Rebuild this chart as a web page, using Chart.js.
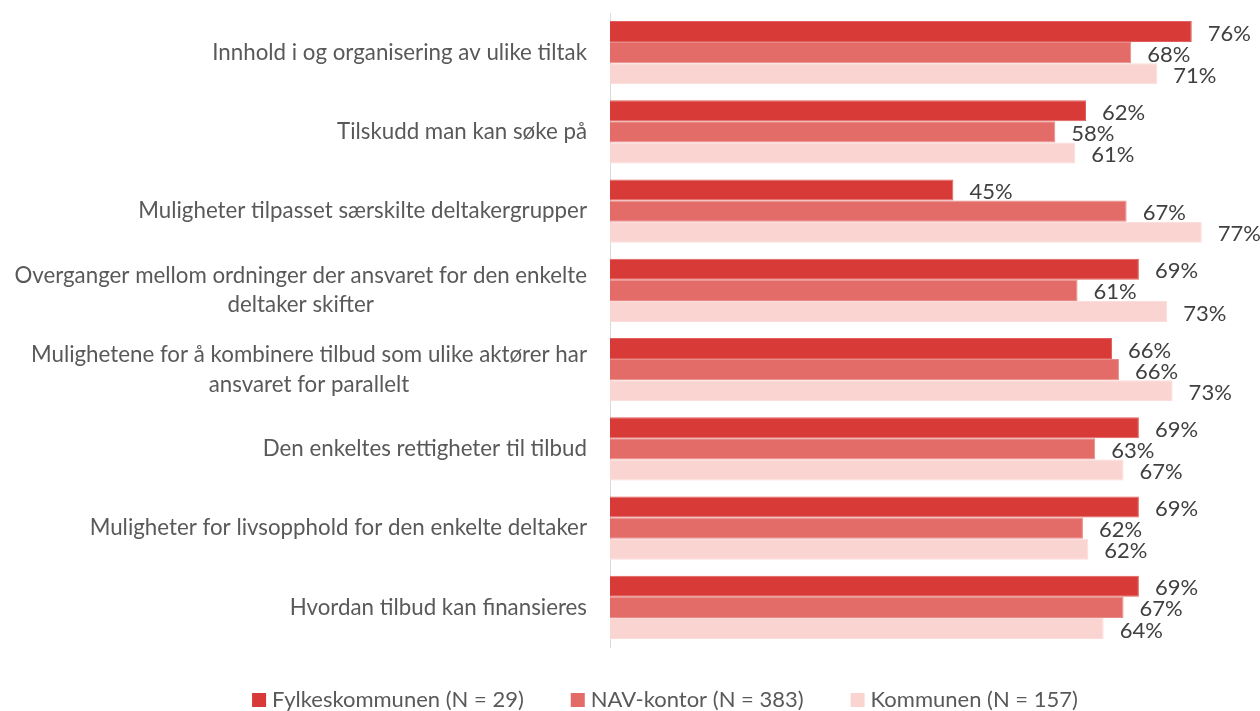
<!DOCTYPE html>
<html>
<head>
<meta charset="utf-8">
<script src="https://cdn.jsdelivr.net/npm/chart.js@4"></script>
<style>
html,body{margin:0;padding:0;background:#fff;}
#wrap{width:1260px;height:711px;position:relative;}
</style>
</head>
<body>
<div id="wrap"><canvas id="c"></canvas></div>
<script>
const categories = [
  ["Innhold i og organisering av ulike tiltak"],
  ["Tilskudd man kan søke på"],
  ["Muligheter tilpasset særskilte deltakergrupper"],
  ["Overganger mellom ordninger der ansvaret for den enkelte", "deltaker skifter"],
  ["Mulighetene for å kombinere tilbud som ulike aktører har", "ansvaret for parallelt"],
  ["Den enkeltes rettigheter til tilbud"],
  ["Muligheter for livsopphold for den enkelte deltaker"],
  ["Hvordan tilbud kan finansieres"]
];
const seriesNames = ["Fylkeskommunen (N = 29)", "NAV-kontor (N = 383)", "Kommunen (N = 157)"];
const fylkeskommunen = [75.9, 62.1, 44.8, 69.0, 65.5, 69.0, 69.0, 69.0];
const navKontor      = [68.0, 58.1, 67.4, 61.0, 66.4, 63.3, 61.7, 67.0];
const kommunen       = [71.4, 60.7, 77.2, 72.7, 73.4, 67.0, 62.4, 64.4];
const colors = ["#D83A37", "#E36B68", "#FAD4D1"];
const borders = ["#E0605D", "#EA8A87", "#FBDCD9"];

const FONT = "Lato, 'Open Sans', sans-serif";

const valueLabels = {
  id: 'valueLabels',
  afterDatasetsDraw(chart) {
    const ctx = chart.ctx;
    ctx.save();
    ctx.font = "22px " + FONT;
    ctx.fillStyle = "#404040";
    ctx.textAlign = "left";
    ctx.textBaseline = "middle";
    chart.data.datasets.forEach((ds, i) => {
      const meta = chart.getDatasetMeta(i);
      meta.data.forEach((bar, j) => {
        ctx.fillText(Math.round(ds.data[j]) + "%", bar.x + 16, bar.y + 2);
      });
    });
    ctx.restore();
  }
};

const catLabels = {
  id: 'catLabels',
  afterDraw(chart) {
    const ctx = chart.ctx;
    const y = chart.scales.y;
    const right = chart.chartArea.left - 23;
    ctx.save();
    ctx.font = "22.3px " + FONT;
    ctx.fillStyle = "#595959";
    ctx.textAlign = "center";
    ctx.textBaseline = "middle";
    const lh = 29.5;
    chart.data.labels.forEach((lines, i) => {
      const cy = y.getPixelForValue(i);
      const widest = Math.max(...lines.map(l => ctx.measureText(l).width));
      const cx = right - widest / 2;
      const y0 = cy - (lines.length - 1) * lh / 2;
      lines.forEach((l, k) => ctx.fillText(l, cx, y0 + k * lh));
    });
    ctx.restore();
  }
};

const customLegend = {
  id: 'customLegend',
  afterDraw(chart) {
    const ctx = chart.ctx;
    ctx.save();
    ctx.font = "22px " + FONT;
    ctx.textAlign = "left";
    ctx.textBaseline = "middle";
    const box = 14, gapText = 6, gapItem = 47;
    const items = chart.data.datasets.map((ds, i) => ({
      text: ds.label, color: ds.backgroundColor, w: box + gapText + ctx.measureText(ds.label).width
    }));
    const total = items.reduce((s, it) => s + it.w, 0) + gapItem * (items.length - 1);
    let x = 665 - total / 2;
    const cy = 700;
    items.forEach(it => {
      ctx.fillStyle = it.color;
      ctx.fillRect(x, cy - box / 2, box, box);
      ctx.fillStyle = "#595959";
      ctx.fillText(it.text, x + box + gapText, cy);
      x += it.w + gapItem;
    });
    ctx.restore();
  }
};

new Chart(document.getElementById('c'), {
  type: 'bar',
  data: {
    labels: categories,
    datasets: [
      { label: seriesNames[0], data: fylkeskommunen, backgroundColor: colors[0], borderColor: borders[0], borderWidth: 1 },
      { label: seriesNames[1], data: navKontor, backgroundColor: colors[1], borderColor: borders[1], borderWidth: 1 },
      { label: seriesNames[2], data: kommunen, backgroundColor: colors[2], borderColor: borders[2], borderWidth: 1 }
    ]
  },
  options: {
    indexAxis: 'y',
    responsive: true,
    maintainAspectRatio: false,
    animation: false,
    categoryPercentage: 0.8,
    barPercentage: 1.0,
    layout: { padding: { left: 0, right: 0, top: 13, bottom: 64 } },
    scales: {
      x: { display: false, min: 0, max: 84.8 },
      y: {
        grid: { display: false },
        border: { display: true, color: '#D9D9D9', width: 1 },
        ticks: { display: false },
        afterFit(scale) { scale.width = 610; }
      }
    },
    plugins: {
      legend: { display: false },
      tooltip: { enabled: false }
    }
  },
  plugins: [valueLabels, catLabels, customLegend]
});
</script>
</body>
</html>
